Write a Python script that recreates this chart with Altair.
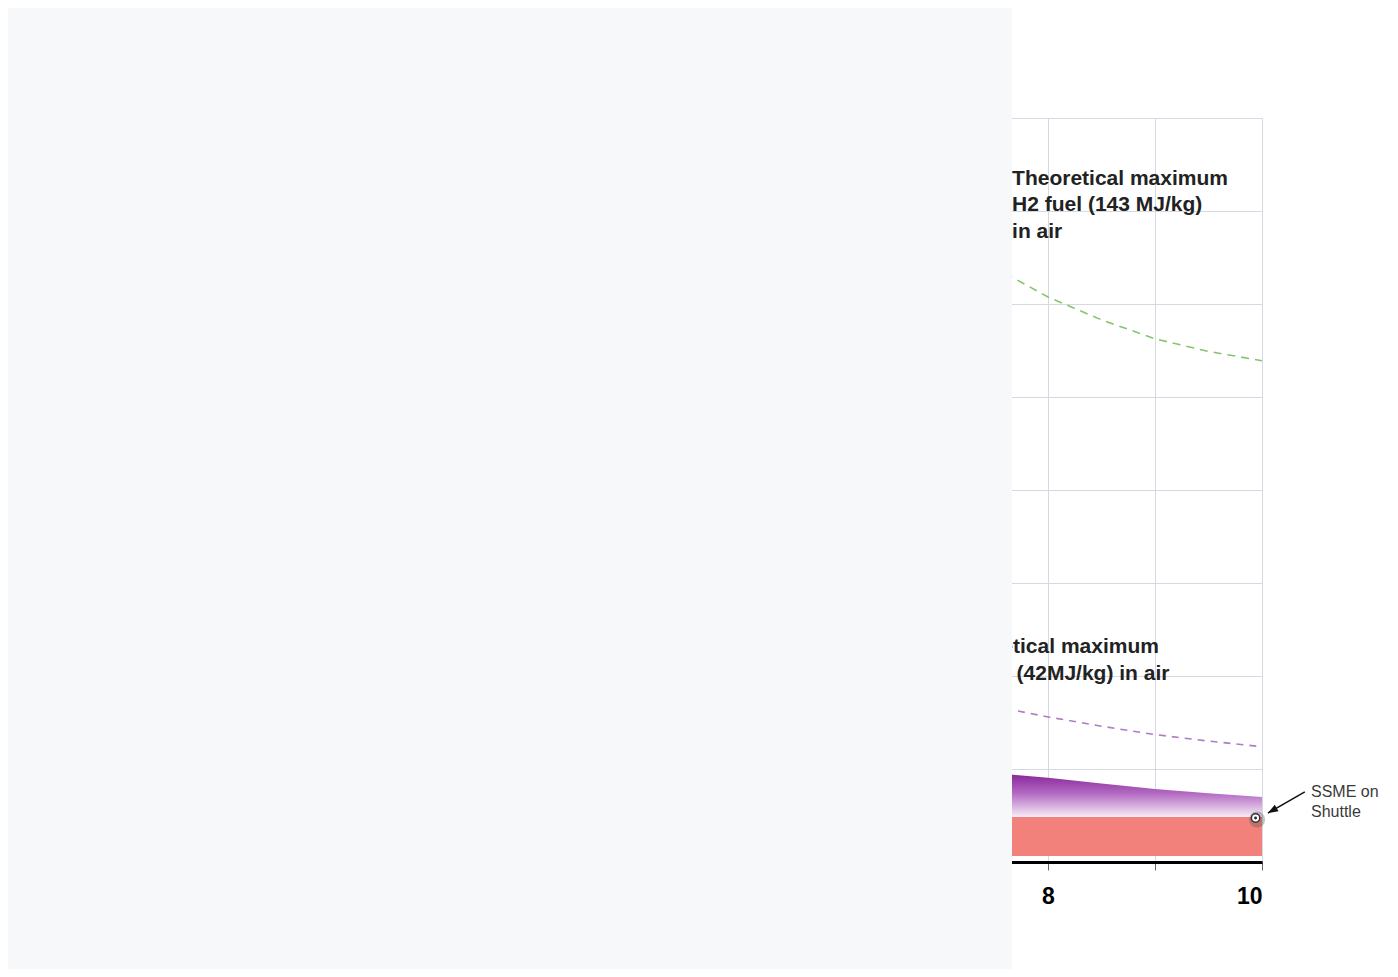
import altair as alt
import pandas as pd

mach = [7.6, 8.0, 8.5, 9.0, 9.5, 10.0]
isp_h2_max = [6330, 6075, 5830, 5625, 5490, 5390]      # green dashed
isp_kero_max = [1650, 1560, 1460, 1370, 1300, 1240]    # purple dashed
isp_scram_top = [945, 905, 845, 785, 740, 700]         # purple gradient area top
scram_bottom = 484

rocket_mach = [7.6, 10.0]
rocket_low, rocket_high = 65, 484

ssme_mach, ssme_isp = 9.94, 473
ssme_label = "SSME on\nShuttle"
arrow_from = (10.40, 753)
arrow_to = (10.056, 527)

h2_label = "Theoretical maximum\nH2 fuel (143 MJ/kg)\nin air"
h2_label_pos = (7.664, 7280)
kero_label = "Theoretical maximum\njet fuel (42MJ/kg) in air"
kero_label_pos = (7.019, 2247)

x_ticks = list(range(0, 11))
y_ticks = list(range(0, 8001, 1000))

FONT = "Liberation Sans"
GRID = "#d6d8e4"

xs = alt.Scale(domain=[0, 10], nice=False, zero=False)
ys = alt.Scale(domain=[0, 8000], nice=False)

curves = pd.DataFrame({"mach": mach, "h2": isp_h2_max, "kero": isp_kero_max,
                       "scram": isp_scram_top, "scram_low": [scram_bottom] * len(mach)})

x_axis = alt.Axis(values=x_ticks, format="d", grid=True, gridColor=GRID, gridWidth=1,
                  domainColor="black", domainWidth=3, tickColor="#666666",
                  tickSize=8, tickWidth=1, labelFont=FONT, labelFontWeight="bold",
                  labelFontSize=23, labelColor="black", labelPadding=15,
                  labelExpr="datum.value % 2 == 0 ? datum.label : ''",
                  title="Mach number", titleFont=FONT)
y_axis = alt.Axis(values=y_ticks, grid=True, gridColor=GRID, gridWidth=1,
                  domain=False, ticks=False, labelFont=FONT, labelFontSize=16,
                  title="Specific impulse, Isp (s)", titleFont=FONT)

base = alt.Chart(curves)

rocket = alt.Chart(pd.DataFrame({"x1": [rocket_mach[0]], "x2": [rocket_mach[1]],
                                 "lo": [rocket_low], "hi": [rocket_high]})).mark_rect(
    color="#f1817a").encode(
    x=alt.X("x1:Q", scale=xs, axis=x_axis), x2="x2:Q",
    y=alt.Y("lo:Q", scale=ys, axis=y_axis), y2="hi:Q")

scram = base.mark_area(
    color=alt.Gradient(gradient="linear",
                       stops=[alt.GradientStop(color="#88269a", offset=0),
                              alt.GradientStop(color="#b36ac2", offset=0.45),
                              alt.GradientStop(color="#f7edf7", offset=1)],
                       x1=1, x2=1, y1=0, y2=1)).encode(
    x=alt.X("mach:Q", scale=xs), y=alt.Y("scram:Q", scale=ys), y2="scram_low:Q")

h2_line = base.mark_line(color="#86c46c", strokeWidth=1.6, strokeDash=[8, 6]).encode(
    x=alt.X("mach:Q", scale=xs), y=alt.Y("h2:Q", scale=ys))
kero_line = base.mark_line(color="#ac7cc4", strokeWidth=1.6, strokeDash=[7, 6]).encode(
    x=alt.X("mach:Q", scale=xs), y=alt.Y("kero:Q", scale=ys))

labels = alt.Chart(pd.DataFrame({
    "x": [h2_label_pos[0], kero_label_pos[0]],
    "y": [h2_label_pos[1], kero_label_pos[1]],
    "t": [h2_label, kero_label]})).mark_text(
    align="left", baseline="alphabetic", font=FONT, fontWeight="bold",
    fontSize=21, lineHeight=26.5, color="#222222", lineBreak="\n").encode(
    x=alt.X("x:Q", scale=xs), y=alt.Y("y:Q", scale=ys), text="t:N")

ssme_df = pd.DataFrame({"x": [ssme_mach], "y": [ssme_isp]})
ssme_shadow = alt.Chart(ssme_df).mark_point(
    filled=True, shape="circle", size=260, color="#555555", opacity=0.35,
    xOffset=1.5, yOffset=1.5).encode(x=alt.X("x:Q", scale=xs), y=alt.Y("y:Q", scale=ys))
ssme_ring = alt.Chart(ssme_df).mark_point(
    filled=True, shape="circle", size=70, fill="white", stroke="#333333",
    strokeWidth=1.5, opacity=1).encode(x=alt.X("x:Q", scale=xs), y=alt.Y("y:Q", scale=ys))
ssme_dot = alt.Chart(ssme_df).mark_point(
    filled=True, shape="circle", size=8, color="#222222", opacity=1).encode(
    x=alt.X("x:Q", scale=xs), y=alt.Y("y:Q", scale=ys))

arrow_df = pd.DataFrame({"x": [arrow_from[0]], "y": [arrow_from[1]],
                         "x2": [arrow_to[0]], "y2": [arrow_to[1]]})
arrow_line = alt.Chart(arrow_df).mark_rule(color="#111111", strokeWidth=1.5).encode(
    x=alt.X("x:Q", scale=xs), y=alt.Y("y:Q", scale=ys), x2="x2:Q", y2="y2:Q")
arrow_head = alt.Chart(arrow_df).mark_point(
    shape="M0,0L-0.75,2L0.75,2Z", filled=True, size=100, angle=240,
    color="#111111", opacity=1).encode(
    x=alt.X("x2:Q", scale=xs), y=alt.Y("y2:Q", scale=ys))

ssme_text = alt.Chart(pd.DataFrame({"x": [10.458], "y": [699], "t": [ssme_label]})).mark_text(
    align="left", baseline="alphabetic", font=FONT, fontSize=16, lineHeight=20,
    color="#3a3a3a", lineBreak="\n").encode(
    x=alt.X("x:Q", scale=xs), y=alt.Y("y:Q", scale=ys), text="t:N")

# blank panel that hides the left part of the picture, as in the reference
cover = alt.Chart(alt.Data(values=[{}])).mark_rect(color="#f7f8fa").encode(
    x=alt.value(-184), x2=alt.value(820), y=alt.value(-110), y2=alt.value(900))

chart = alt.layer(
    rocket, scram, h2_line, kero_line, labels,
    ssme_shadow, ssme_ring, ssme_dot, arrow_line, arrow_head, ssme_text, cover
).properties(
    width=1070, height=744,
    padding={"left": 184, "top": 110, "right": 120, "bottom": 107},
    autosize=alt.AutoSizeParams(type="none"),
    background="white",
).configure_view(stroke=None)

chart.save("out.html", embed_options={"renderer": "svg", "actions": False})
